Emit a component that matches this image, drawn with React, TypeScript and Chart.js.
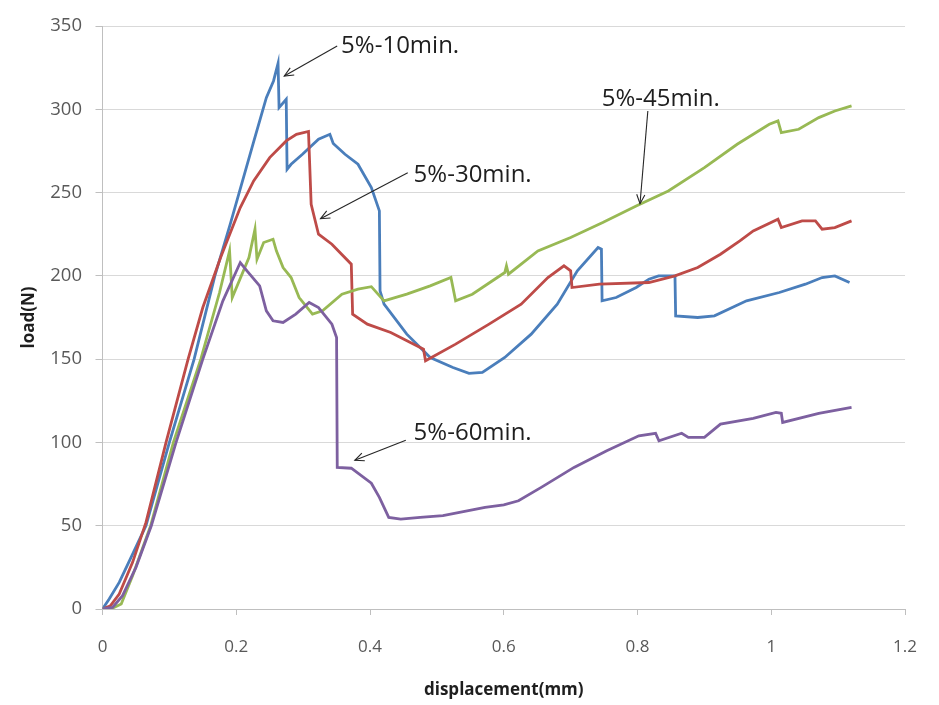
import React, { useEffect, useRef } from "react";
import { Chart, registerables } from "chart.js";

Chart.register(...registerables);

// ---- data (displacement in mm, load in N) ----
const disp10 = [0, 0.01, 0.025, 0.045, 0.065, 0.1, 0.137, 0.168, 0.191, 0.2264, 0.245, 0.2557, 0.2625, 0.264, 0.2747, 0.276, 0.282, 0.299, 0.323, 0.34, 0.345, 0.3626, 0.382, 0.402, 0.414, 0.415, 0.421, 0.455, 0.49, 0.524, 0.548, 0.568, 0.6015, 0.641, 0.68, 0.71, 0.741, 0.746, 0.747, 0.768, 0.798, 0.817, 0.8315, 0.856, 0.857, 0.89, 0.915, 0.963, 1.012, 1.051, 1.076, 1.095, 1.117];
const load10 = [0, 6, 16, 33, 50, 100, 150, 200, 231, 281, 307, 317, 327.6, 301, 306, 264, 267, 273, 282, 285, 279.5, 273, 267, 253, 239, 191, 183, 165, 151, 145, 141.5, 142, 151, 165, 183, 203, 217, 216, 185, 187, 193, 198, 200, 200, 176, 175, 176, 185, 190, 195, 199, 200, 196];

const disp30 = [0, 0.012, 0.025, 0.045, 0.065, 0.095, 0.128, 0.15, 0.1766, 0.206, 0.226, 0.25, 0.2747, 0.29, 0.308, 0.312, 0.323, 0.343, 0.372, 0.374, 0.396, 0.431, 0.475, 0.48, 0.483, 0.528, 0.578, 0.626, 0.666, 0.69, 0.7, 0.702, 0.743, 0.817, 0.856, 0.89, 0.924, 0.953, 0.973, 1.01, 1.015, 1.046, 1.066, 1.076, 1.095, 1.12];
const load30 = [0, 2, 9, 28, 52, 100, 150, 181, 211, 241, 257, 271, 281, 285, 286.7, 243, 225, 219, 207, 177, 171, 166, 157, 156, 149, 159, 171, 183, 199, 206, 203, 193, 195, 196, 200, 205, 213, 221, 227, 234, 229, 233, 233, 228, 229, 233];

const disp45 = [0, 0.015, 0.028, 0.045, 0.072, 0.106, 0.147, 0.175, 0.19, 0.194, 0.219, 0.228, 0.231, 0.241, 0.255, 0.26, 0.27, 0.282, 0.294, 0.314, 0.329, 0.358, 0.382, 0.402, 0.421, 0.455, 0.49, 0.521, 0.528, 0.553, 0.6015, 0.604, 0.607, 0.651, 0.7, 0.748, 0.798, 0.846, 0.9, 0.949, 0.997, 1.01, 1.015, 1.041, 1.071, 1.095, 1.12];
const load45 = [0, 0.5, 3, 20, 50, 100, 150, 190, 215, 187, 211, 228, 210, 220, 222, 215, 205, 199, 187, 177, 179, 189, 192, 193.5, 185, 189, 194, 199, 185, 189, 202, 206, 201, 215, 223, 232, 242, 251, 265, 279, 291, 293, 286, 288, 295, 299, 302];

const disp60 = [0, 0.015, 0.03, 0.05, 0.073, 0.11, 0.15, 0.18, 0.206, 0.216, 0.235, 0.245, 0.255, 0.27, 0.289, 0.309, 0.323, 0.343, 0.35, 0.351, 0.372, 0.402, 0.414, 0.428, 0.446, 0.475, 0.509, 0.572, 0.6, 0.622, 0.656, 0.705, 0.754, 0.802, 0.827, 0.832, 0.866, 0.876, 0.9, 0.924, 0.973, 1.007, 1.015, 1.017, 1.071, 1.12];
const load60 = [0, 1, 8, 25, 50, 100, 150, 185, 208, 203, 194, 179, 173, 172, 177, 184, 181, 171, 163, 85, 84.5, 75.5, 67, 55, 54, 55, 56, 61, 62.5, 65, 73, 85, 95, 104, 105.5, 101, 105.5, 103, 103, 111, 114.5, 118, 117.5, 112, 117.5, 121];

const xTicks = [0, 0.2, 0.4, 0.6, 0.8, 1, 1.2];
const yTicks = [0, 50, 100, 150, 200, 250, 300, 350];

// ---- annotations (in data units) ----
const noteLabels = ["5%-10min.", "5%-30min.", "5%-45min.", "5%-60min."];
const noteTextX = [0.3568, 0.4652, 0.7465, 0.4652];
const noteTextY = [338, 260.5, 306.2, 105.5];
const noteTailX = [0.3509, 0.4564, 0.8154, 0.4535];
const noteTailY = [338, 261.9, 299, 101.3];
const noteTipX = [0.2718, 0.326, 0.8037, 0.3773];
const noteTipY = [320, 234.3, 243.3, 89.3];

const toPoints = (xs: number[], ys: number[]) => xs.map((x, i) => ({ x, y: ys[i] }));

const notesPlugin = {
  id: "arrowNotes",
  afterDatasetsDraw(chart: any) {
    const { ctx, scales } = chart;
    const sx = scales.x;
    const sy = scales.y;
    ctx.save();
    noteLabels.forEach((label, i) => {
      const ax = sx.getPixelForValue(noteTailX[i]);
      const ay = sy.getPixelForValue(noteTailY[i]);
      const bx = sx.getPixelForValue(noteTipX[i]);
      const by = sy.getPixelForValue(noteTipY[i]);
      ctx.strokeStyle = "#262626";
      ctx.lineWidth = 1.1;
      ctx.beginPath();
      ctx.moveTo(ax, ay);
      ctx.lineTo(bx, by);
      ctx.stroke();
      const ang = Math.atan2(by - ay, bx - ax);
      const h = 10;
      ctx.beginPath();
      ctx.moveTo(bx - h * Math.cos(ang - 0.42), by - h * Math.sin(ang - 0.42));
      ctx.lineTo(bx, by);
      ctx.lineTo(bx - h * Math.cos(ang + 0.42), by - h * Math.sin(ang + 0.42));
      ctx.stroke();
      ctx.font = "24px 'Open Sans', 'Noto Sans', sans-serif";
      ctx.fillStyle = "#1e1e1e";
      ctx.textAlign = "left";
      ctx.textBaseline = "middle";
      ctx.fillText(label, sx.getPixelForValue(noteTextX[i]), sy.getPixelForValue(noteTextY[i]));
    });
    ctx.restore();
  },
};

export default function App() {
  const ref = useRef<HTMLCanvasElement | null>(null);

  useEffect(() => {
    document.body.style.margin = "0";
    const canvas = ref.current;
    if (!canvas) return;
    const common = { showLine: true, pointRadius: 0, borderWidth: 2.8, tension: 0, fill: false };
    const chart = new Chart(canvas, {
      type: "scatter",
      data: {
        datasets: [
          { ...common, label: "5%-10min.", data: toPoints(disp10, load10), borderColor: "#4a7ebb", backgroundColor: "#4a7ebb", order: 3 },
          { ...common, label: "5%-30min.", data: toPoints(disp30, load30), borderColor: "#be4b48", backgroundColor: "#be4b48", order: 2 },
          { ...common, label: "5%-45min.", data: toPoints(disp45, load45), borderColor: "#98b954", backgroundColor: "#98b954", order: 1 },
          { ...common, label: "5%-60min.", data: toPoints(disp60, load60), borderColor: "#7d60a0", backgroundColor: "#7d60a0", order: 0 },
        ],
      },
      options: {
        responsive: false,
        animation: false,
        devicePixelRatio: 1,
        layout: { padding: { left: 0, right: 18, top: 26, bottom: 0 } },
        plugins: { legend: { display: false }, tooltip: { enabled: false } },
        scales: {
          x: {
            type: "linear",
            min: 0,
            max: 1.2,
            afterFit: (s: any) => { s.height = 96; },
            afterBuildTicks: (s: any) => { s.ticks = xTicks.map((v) => ({ value: v })); },
            ticks: {
              callback: (v: any) => String(Math.round(Number(v) * 10) / 10),
              color: "#595959",
              font: { family: "'Open Sans', sans-serif", size: 17 },
              padding: 22,
              maxRotation: 0,
            },
            grid: { drawOnChartArea: false, drawTicks: true, tickLength: 6, color: "#bfbfbf" },
            border: { display: true, color: "#bfbfbf", width: 1 },
            title: {
              display: true,
              text: "displacement(mm)",
              color: "#1e1e1e",
              font: { family: "'Open Sans', sans-serif", size: 17, weight: "bold" },
              padding: { top: 0, bottom: 5 },
            },
          },
          y: {
            type: "linear",
            min: 0,
            max: 350,
            afterFit: (s: any) => { s.width = 102.5; },
            afterBuildTicks: (s: any) => { s.ticks = yTicks.map((v) => ({ value: v })); },
            ticks: {
              color: "#595959",
              font: { family: "'Open Sans', sans-serif", size: 18.5 },
              padding: 13.5,
            },
            grid: { drawOnChartArea: true, drawTicks: true, tickLength: 7, color: "#d9d9d9", tickColor: "#bfbfbf" },
            border: { display: true, color: "#bfbfbf", width: 1 },
            title: {
              display: true,
              text: "load(N)",
              color: "#1e1e1e",
              font: { family: "'Open Sans', sans-serif", size: 17, weight: "bold" },
              padding: { top: 19, bottom: 0 },
            },
          },
        },
      },
      plugins: [notesPlugin],
    });
    return () => chart.destroy();
  }, []);

  return (
    <div style={{ width: 939, height: 705 }}>
      <canvas ref={ref} width={939} height={705} style={{ display: "block" }} />
    </div>
  );
}
